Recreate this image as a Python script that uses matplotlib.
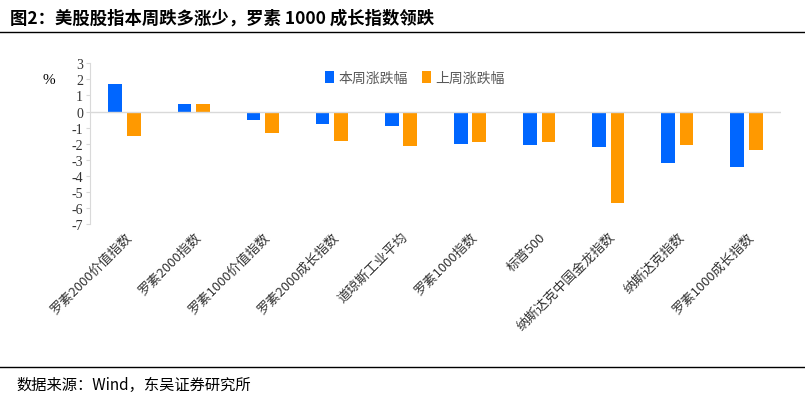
import matplotlib
matplotlib.use("Agg")
import matplotlib.pyplot as plt
import numpy as np

plt.rcParams['font.family'] = ['Liberation Serif', 'Noto Sans CJK SC', 'DejaVu Sans']

categories = ["罗素2000价值指数", "罗素2000指数", "罗素1000价值指数", "罗素2000成长指数",
              "道琼斯工业平均", "罗素1000指数", "标普500", "纳斯达克中国金龙指数",
              "纳斯达克指数", "罗素1000成长指数"]
this_week = [1.7, 0.45, -0.55, -0.75, -0.92, -2.0, -2.1, -2.2, -3.2, -3.45]
last_week = [-1.55, 0.45, -1.32, -1.82, -2.12, -1.88, -1.92, -5.7, -2.07, -2.38]
yticks = list(range(-7, 4))

fig = plt.figure(figsize=(8.05, 4.02), dpi=100)
ax = fig.add_axes([0.112, 0.44, 0.858, 0.40])
x = np.arange(len(categories))
w = 0.2
ax.bar(x - 0.135, this_week, w, color='#0066FF', label='本周涨跌幅')
ax.bar(x + 0.135, last_week, w, color='#FF9900', label='上周涨跌幅')
ax.set_ylim(-7, 3)
ax.set_xlim(-0.5, len(categories) - 0.5)
ax.set_yticks(yticks)
ax.set_yticklabels([str(t) for t in yticks], fontsize=10, color='#333333')
ax.set_xticks(x)
ax.set_xticklabels(categories, rotation=45, ha='right', rotation_mode='anchor', fontsize=9.5,
                   color='#333333', family=['Noto Sans CJK SC', 'DejaVu Sans'])
for s in ['top', 'right', 'bottom']:
    ax.spines[s].set_visible(False)
ax.spines['left'].set_color('#D9D9D9')
ax.axhline(0, color='#D9D9D9', lw=1)
ax.tick_params(axis='x', length=0, pad=4)
ax.tick_params(axis='y', length=3, color='#D9D9D9', pad=2)
ax.text(-0.06, 0.88, '%', transform=ax.transAxes, fontsize=11, ha='center')
ax.legend(loc='upper center', bbox_to_anchor=(0.47, 1.03), ncol=2, frameon=False,
          prop={'family': ['Noto Sans CJK SC'], 'size': 10}, handlelength=0.7,
          handleheight=0.9, columnspacing=1.0, handletextpad=0.3, labelcolor='#595959')

fig.text(0.012, 0.955, '图2：美股股指本周跌多涨少，罗素 1000 成长指数领跌', fontsize=12.5,
         fontweight='bold', va='center', family=['Noto Sans CJK SC'])
fig.add_artist(plt.Line2D([0.0, 1.0], [0.918, 0.918], color='black', lw=1))
fig.add_artist(plt.Line2D([0.0, 1.0], [0.085, 0.085], color='black', lw=1))
fig.text(0.02, 0.04, '数据来源：Wind，东吴证券研究所', fontsize=11, va='center',
         family=['Noto Sans CJK SC'])
fig.savefig('out.png', dpi=100)
